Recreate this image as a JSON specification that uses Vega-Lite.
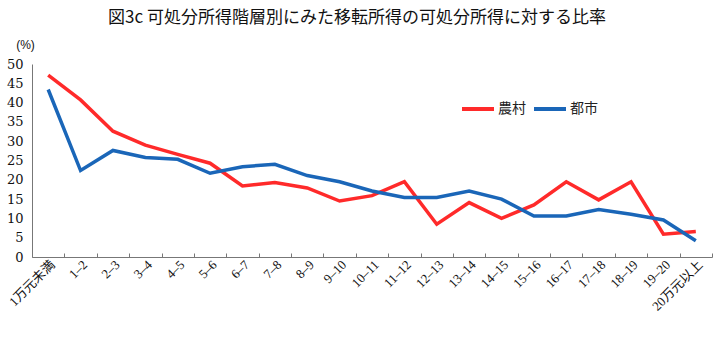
{
  "$schema": "https://vega.github.io/schema/vega-lite/v6.json",
  "width": 680,
  "height": 193,
  "autosize": "none",
  "padding": {"left": 32, "top": 64, "right": 10, "bottom": 84},
  "background": "white",
  "title": {
    "text": "図3c  可処分所得階層別にみた移転所得の可処分所得に対する比率",
    "font": "Noto Sans CJK JP",
    "fontSize": 17,
    "fontWeight": "normal",
    "color": "#111",
    "anchor": "middle",
    "dx": -15,
    "offset": 11
  },
  "config": {
    "view": {"stroke": null},
    "axis": {"grid": false, "domainColor": "#777", "tickColor": "#777", "labelColor": "#111", "titleColor": "#111"}
  },
  "data": {
    "values": [
      {"c": "1万元未満", "s": "農村", "v": 47.1},
      {"c": "1–2", "s": "農村", "v": 40.7},
      {"c": "2–3", "s": "農村", "v": 32.6},
      {"c": "3–4", "s": "農村", "v": 29.0},
      {"c": "4–5", "s": "農村", "v": 26.6},
      {"c": "5–6", "s": "農村", "v": 24.3},
      {"c": "6–7", "s": "農村", "v": 18.4},
      {"c": "7–8", "s": "農村", "v": 19.3},
      {"c": "8–9", "s": "農村", "v": 17.9},
      {"c": "9–10", "s": "農村", "v": 14.5},
      {"c": "10–11", "s": "農村", "v": 15.9},
      {"c": "11–12", "s": "農村", "v": 19.5},
      {"c": "12–13", "s": "農村", "v": 8.5},
      {"c": "13–14", "s": "農村", "v": 14.1},
      {"c": "14–15", "s": "農村", "v": 10.0},
      {"c": "15–16", "s": "農村", "v": 13.5},
      {"c": "16–17", "s": "農村", "v": 19.5},
      {"c": "17–18", "s": "農村", "v": 14.8},
      {"c": "18–19", "s": "農村", "v": 19.5},
      {"c": "19–20", "s": "農村", "v": 5.9},
      {"c": "20万元以上", "s": "農村", "v": 6.6},
      {"c": "1万元未満", "s": "都市", "v": 43.4},
      {"c": "1–2", "s": "都市", "v": 22.4},
      {"c": "2–3", "s": "都市", "v": 27.6},
      {"c": "3–4", "s": "都市", "v": 25.8},
      {"c": "4–5", "s": "都市", "v": 25.3},
      {"c": "5–6", "s": "都市", "v": 21.7},
      {"c": "6–7", "s": "都市", "v": 23.4},
      {"c": "7–8", "s": "都市", "v": 24.0},
      {"c": "8–9", "s": "都市", "v": 21.1},
      {"c": "9–10", "s": "都市", "v": 19.5},
      {"c": "10–11", "s": "都市", "v": 17.1},
      {"c": "11–12", "s": "都市", "v": 15.4},
      {"c": "12–13", "s": "都市", "v": 15.4},
      {"c": "13–14", "s": "都市", "v": 17.1},
      {"c": "14–15", "s": "都市", "v": 15.0},
      {"c": "15–16", "s": "都市", "v": 10.6},
      {"c": "16–17", "s": "都市", "v": 10.6},
      {"c": "17–18", "s": "都市", "v": 12.3},
      {"c": "18–19", "s": "都市", "v": 11.1},
      {"c": "19–20", "s": "都市", "v": 9.6},
      {"c": "20万元以上", "s": "都市", "v": 4.2}
    ]
  },
  "mark": {"type": "line", "strokeWidth": 3.5, "strokeJoin": "miter"},
  "encoding": {
    "x": {
      "field": "c",
      "type": "nominal",
      "sort": null,
      "scale": {"type": "band", "paddingInner": 0, "paddingOuter": 0},
      "axis": {
        "title": null,
        "labelAngle": -45,
        "labelFont": "Liberation Serif, Noto Sans CJK JP",
        "labelFontSize": 13,
        "labelPadding": 5,
        "tickBand": "extent",
        "tickSize": -4,
        "labelOverlap": false
      }
    },
    "y": {
      "field": "v",
      "type": "quantitative",
      "scale": {"domain": [0, 50], "nice": false},
      "axis": {
        "values": [0, 5, 10, 15, 20, 25, 30, 35, 40, 45, 50],
        "tickSize": 0,
        "labelPadding": 9,
        "labelFont": "DejaVu Serif",
        "labelFontSize": 13,
        "title": "(%)",
        "titleFont": "Liberation Sans Narrow, Liberation Sans",
        "titleFontSize": 12,
        "titleFontWeight": "normal",
        "titleAngle": 0,
        "titleAlign": "center",
        "titleBaseline": "middle",
        "titleX": -7,
        "titleY": -20
      }
    },
    "color": {
      "field": "s",
      "type": "nominal",
      "sort": ["農村", "都市"],
      "scale": {"domain": ["農村", "都市"], "range": ["#ff2a2a", "#1a66b8"]},
      "legend": {
        "title": null,
        "orient": "none",
        "legendX": 428,
        "legendY": 27,
        "direction": "horizontal",
        "symbolType": "stroke",
        "symbolSize": 1024,
        "symbolStrokeWidth": 4,
        "labelFont": "Noto Sans CJK JP",
        "labelFontSize": 14,
        "labelColor": "#222",
        "labelOffset": 2,
        "columnPadding": 0
      }
    }
  }
}
